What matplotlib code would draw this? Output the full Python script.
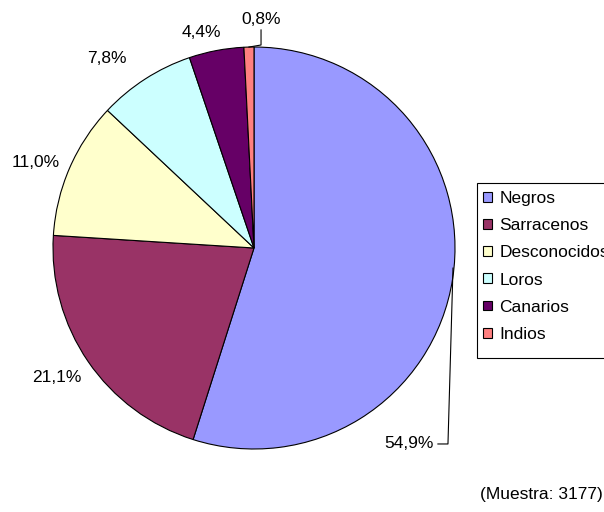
import numpy as np
import matplotlib
matplotlib.use('Agg')
import matplotlib.pyplot as plt
from matplotlib.patches import Rectangle

plt.rcParams['font.family'] = ['Liberation Sans', 'DejaVu Sans']

categorias = ['Negros', 'Sarracenos', 'Desconocidos', 'Loros', 'Canarios', 'Indios']
porcentajes = [54.9, 21.1, 11.0, 7.8, 4.4, 0.8]
colores = ['#9999FF', '#993366', '#FFFFCC', '#CCFFFF', '#660066', '#FF8080']
muestra = 3177

W, H = 604, 512
fig = plt.figure(figsize=(W / 100, H / 100), dpi=100)
# pie occupies a square of ~402 px centred at (254, 248)
ax = fig.add_axes([53 / W, (H - 449) / H, 402 / W, 402 / H])

wedges, _ = ax.pie(porcentajes, colors=colores, startangle=90, counterclock=False,
                   radius=1, wedgeprops=dict(edgecolor='black', linewidth=0.8))
ax.set_xlim(-1, 1)
ax.set_ylim(-1, 1)
ax.set_aspect('equal')
ax.axis('off')

fs = 12.5
def fmt(v):
    return f'{v:.1f}%'.replace('.', ',')

# distance of each label from centre (in radii), roughly as Excel placed them
dist = [None, 1.175, 1.165, 1.195, 1.105, None]

for i, (w, v) in enumerate(zip(wedges, porcentajes)):
    mid = np.deg2rad((w.theta1 + w.theta2) / 2)
    ex, ey = np.cos(mid), np.sin(mid)
    if i == 0:
        # label pulled down with leader line
        ax.text(0.895, -0.975, fmt(v), ha='right', va='center', fontsize=fs)
        ax.plot([0.99, 0.965, 0.915], [-0.10, -0.975, -0.975], color='black', lw=0.8,
                clip_on=False)
    elif i == len(porcentajes) - 1:
        ax.text(0.035, 1.10, fmt(v), ha='center', va='bottom', fontsize=fs)
        ax.plot([0.035, 0.035, ex], [1.085, 1.01, ey], color='black', lw=0.8,
                clip_on=False)
    else:
        # Excel nudges the upper labels a bit anticlockwise
        a = mid + np.deg2rad([0, -1, 2, 5, 3][i])
        ax.text(dist[i] * np.cos(a), dist[i] * np.sin(a), fmt(v),
                ha='center', va='center', fontsize=fs)

handles = [Rectangle((0, 0), 1, 1, facecolor=c, edgecolor='black', linewidth=0.8)
           for c in colores]
leg = fig.legend(handles, categorias, loc='upper left',
                 bbox_to_anchor=(477 / W, 1 - 185 / H), fontsize=fs,
                 frameon=False,
                 handlelength=0.5, handleheight=0.5, handletextpad=0.45,
                 labelspacing=0.7, borderpad=0.35, borderaxespad=0)
# legend box (extends past the right edge, as in the original)
fig.patches.append(Rectangle((477 / W, 1 - 358 / H), 200 / W, 175 / H,
                             transform=fig.transFigure, facecolor='white',
                             edgecolor='black', linewidth=0.8, zorder=0))

fig.text(603 / W, 1 - 495 / H, f'(Muestra: {muestra})', ha='right', va='center',
         fontsize=fs)

fig.savefig('out.png', dpi=100)
